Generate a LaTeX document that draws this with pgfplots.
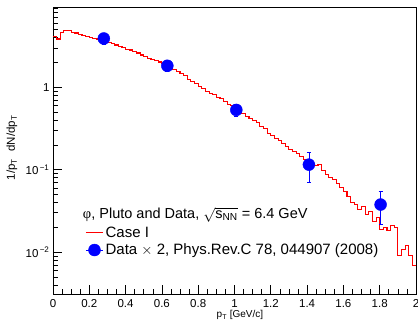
\documentclass[border=0pt]{standalone}
\usepackage{fontspec}
\setmainfont{Liberation Sans}
\newfontfamily\serifgreek{Liberation Serif}
\usepackage{pgfplots}
\usepackage{pgfplotstable}
\pgfplotsset{compat=1.18}
\definecolor{rootred}{RGB}{255,0,0}
\definecolor{rootblue}{RGB}{0,0,255}
\pgfplotstableread{
x y e
0.28 3.90 0.55
0.63 1.82 0.25
1.01 0.53 0.09
1.41 0.115 0.045
1.805 0.0377 0.016
}\datatable
\begin{document}
\begin{tikzpicture}[x=1pt,y=1pt]
\path[use as bounding box] (-53,-26) rectangle (365,294);
\begin{axis}[
  at={(0,0)}, anchor=south west,
  scale only axis, width=363pt, height=287pt,
  xmin=0, xmax=2, ymode=log, ymin=0.0031, ymax=9.4,
  xtick={0,0.2,0.4,0.6,0.8,1,1.2,1.4,1.6,1.8,2},
  xticklabels={0,0.2,0.4,0.6,0.8,1,1.2,1.4,1.6,1.8,2},
  minor x tick num=3,
  ytick={0.01,0.1,1},
  yticklabels={10\textsuperscript{\,−2},10\textsuperscript{\,−1},1},
  minor ytick={0.004,0.005,0.006,0.007,0.008,0.009,0.02,0.03,0.04,0.05,0.06,0.07,0.08,0.09,0.2,0.3,0.4,0.5,0.6,0.7,0.8,0.9,2,3,4,5,6,7,8,9},
  tick align=inside, xtick pos=bottom, ytick pos=left,
  major tick length=9pt, minor tick length=5pt,
  tick style={black, line width=0.6pt},
  axis line style={line width=0.8pt},
  ticklabel style={font=\fontsize{11.5}{12}\selectfont},
  xticklabel style={yshift=-2pt},
  xlabel={p\textsubscript{T} [GeV/c]},
  xlabel style={font=\fontsize{10}{10}\selectfont, at={(axis description cs:0.515,0)}, anchor=north, yshift=-13pt},
  ylabel={1/p\textsubscript{T}\hspace{4pt} dN/dp\textsubscript{T}},
  ylabel style={font=\fontsize{11.5}{11.5}\selectfont, at={(axis description cs:-0.113,0.509)}, anchor=center},
  legend style={at={(rel axis cs:0.086,0.245)}, anchor=north west, draw=none, fill=none,
    font=\fontsize{15}{15}\selectfont, row sep=1pt, inner sep=1pt},
  legend cell align=left,
]
\addplot[draw=rootred, line width=1.1pt, sharp plot, no markers] coordinates {
(0.00,4.17)(0.02,4.17)(0.02,3.84)(0.04,3.84)(0.04,4.66)(0.06,4.66)(0.06,4.86)(0.08,4.86)
(0.08,4.93)(0.10,4.93)(0.10,4.57)(0.12,4.57)(0.12,4.54)(0.14,4.54)(0.14,4.41)(0.16,4.41)
(0.16,4.23)(0.18,4.23)(0.18,4.09)(0.20,4.09)(0.20,4.00)(0.22,4.00)(0.22,3.91)(0.24,3.91)
(0.24,3.84)(0.26,3.84)(0.26,3.73)(0.28,3.73)(0.28,3.68)(0.30,3.68)(0.30,3.48)(0.32,3.48)
(0.32,3.40)(0.34,3.40)(0.34,3.25)(0.36,3.25)(0.36,3.10)(0.38,3.10)(0.38,3.03)(0.40,3.03)
(0.40,2.88)(0.42,2.88)(0.42,2.83)(0.44,2.83)(0.44,2.69)(0.46,2.69)(0.46,2.60)(0.48,2.60)
(0.48,2.46)(0.50,2.46)(0.50,2.36)(0.52,2.36)(0.52,2.24)(0.54,2.24)(0.54,2.17)(0.56,2.17)
(0.56,2.10)(0.58,2.10)(0.58,2.02)(0.60,2.02)(0.60,1.95)(0.62,1.95)(0.62,1.84)(0.64,1.84)
(0.64,1.76)(0.66,1.76)(0.66,1.64)(0.68,1.64)(0.68,1.55)(0.70,1.55)(0.70,1.45)(0.72,1.45)
(0.72,1.37)(0.74,1.37)(0.74,1.23)(0.76,1.23)(0.76,1.16)(0.78,1.16)(0.78,1.10)(0.80,1.10)
(0.80,1.02)(0.82,1.02)(0.82,0.967)(0.84,0.967)(0.84,0.889)(0.86,0.889)(0.86,0.846)(0.88,0.846)
(0.88,0.807)(0.90,0.807)(0.90,0.753)(0.92,0.753)(0.92,0.722)(0.94,0.722)(0.94,0.664)(0.96,0.664)
(0.96,0.620)(0.98,0.620)(0.98,0.594)(1.00,0.594)(1.00,0.547)(1.02,0.547)(1.02,0.510)(1.04,0.510)
(1.04,0.482)(1.06,0.482)(1.06,0.443)(1.08,0.443)(1.08,0.419)(1.10,0.419)(1.10,0.397)(1.12,0.397)
(1.12,0.370)(1.14,0.370)(1.14,0.336)(1.16,0.336)(1.16,0.313)(1.18,0.313)(1.18,0.276)(1.20,0.276)
(1.20,0.258)(1.22,0.258)(1.22,0.240)(1.24,0.240)(1.24,0.224)(1.26,0.224)(1.26,0.206)(1.28,0.206)
(1.28,0.190)(1.30,0.190)(1.30,0.174)(1.32,0.174)(1.32,0.165)(1.34,0.165)(1.34,0.156)(1.36,0.156)
(1.36,0.146)(1.38,0.146)(1.38,0.132)(1.40,0.132)(1.40,0.122)(1.42,0.122)(1.42,0.118)(1.44,0.118)
(1.44,0.112)(1.46,0.112)(1.46,0.115)(1.48,0.115)(1.48,0.0973)(1.50,0.0973)(1.50,0.0871)(1.52,0.0871)
(1.52,0.0800)(1.54,0.0800)(1.54,0.0757)(1.56,0.0757)(1.56,0.0677)(1.58,0.0677)(1.58,0.0606)(1.60,0.0606)
(1.60,0.0542)(1.62,0.0542)(1.62,0.0472)(1.64,0.0472)(1.64,0.0399)(1.66,0.0399)(1.66,0.0377)(1.68,0.0377)
(1.68,0.0328)(1.70,0.0328)(1.70,0.0357)(1.72,0.0357)(1.72,0.0286)(1.74,0.0286)(1.74,0.0311)(1.76,0.0311)
(1.76,0.0235)(1.78,0.0235)(1.78,0.0263)(1.80,0.0263)(1.80,0.0188)(1.82,0.0188)(1.82,0.0199)(1.84,0.0199)
(1.84,0.0183)(1.86,0.0183)(1.86,0.0210)(1.88,0.0210)(1.88,0.0199)(1.90,0.0199)(1.90,0.00912)(1.92,0.00912)
(1.92,0.0108)(1.94,0.0108)(1.94,0.0121)(1.96,0.0121)(1.96,0.00912)(1.98,0.00912)(1.98,0.00691)(2.00,0.00691)
};
\addlegendentry{Case I}
\addplot[rootblue, only marks, mark=*, mark size=6pt,
  legend image code/.code={\draw[rootblue, line width=1pt] (0cm,0cm) -- (0.6cm,0cm);
    \fill[rootblue] (0.3cm,0cm) circle (6pt);},
  error bars/.cd, y dir=both, y explicit, error bar style={rootblue, line width=0.8pt},
  error mark options={rotate=90, rootblue, mark size=2pt, line width=0.8pt}]
  table[x=x,y=y,y error=e] {\datatable};
\addlegendentry{Data $\times$ 2, Phys.Rev.C 78, 044907 (2008)}
\node[anchor=west, font=\fontsize{14.5}{15}\selectfont, inner sep=0pt] at (rel axis cs:0.082,0.275)
  {{\serifgreek φ}, Pluto and Data, $\sqrt{\mbox{s\textsubscript{NN}}}$ = 6.4 GeV};
\end{axis}
\end{tikzpicture}
\end{document}
